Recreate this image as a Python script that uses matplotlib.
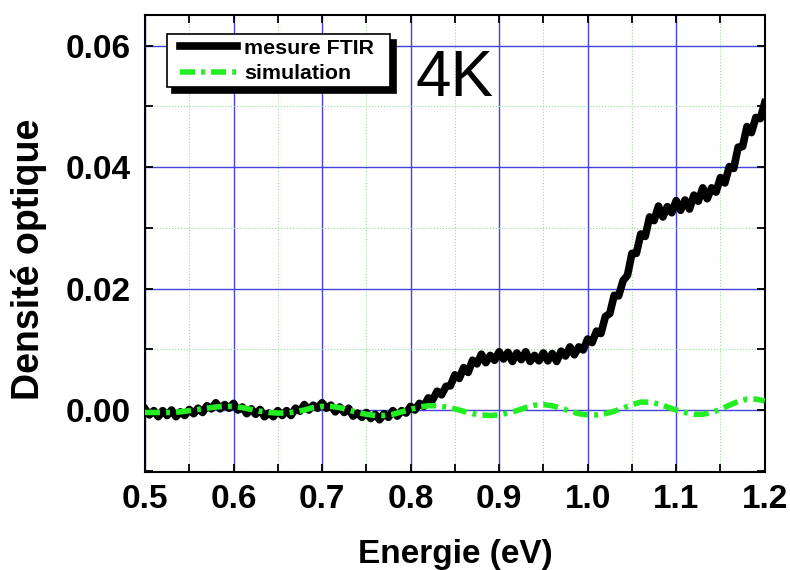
import numpy as np
import matplotlib
matplotlib.use("Agg")
from matplotlib import pyplot as plt
from matplotlib.ticker import MultipleLocator, FormatStrFormatter
from matplotlib.lines import Line2D
from matplotlib.legend_handler import HandlerLine2D

# energies (eV)
energie_ftir = np.round(np.arange(0.500, 1.2001, 0.005), 3)
energie_sim = np.round(np.arange(0.50, 1.2001, 0.01), 2)

do_ftir = [
    0.0002, -0.0008, -0.0001, -0.0011, -0.0001, -0.0009, 0.0000, -0.0011, -0.0003, -0.0009,
    0.0001, -0.0006, 0.0003, -0.0004, 0.0007, 0.0002, 0.0012, 0.0002, 0.0009, 0.0003,
    0.0011, 0.0000, 0.0005, -0.0006, 0.0002, -0.0007, 0.0001, -0.0011, -0.0005, -0.0011,
    -0.0001, -0.0009, -0.0001, -0.0009, 0.0003, -0.0002, 0.0009, 0.0000, 0.0008, 0.0003,
    0.0012, 0.0003, 0.0008, -0.0003, 0.0005, -0.0004, 0.0003, -0.0010, -0.0005, -0.0012,
    -0.0004, -0.0014, -0.0007, -0.0016, -0.0006, -0.0012, -0.0001, -0.0010, -0.0001, -0.0005,
    0.0006, 0.0000, 0.0011, 0.0006, 0.0020, 0.0017, 0.0031, 0.0025, 0.0039, 0.0040,
    0.0058, 0.0052, 0.0070, 0.0062, 0.0082, 0.0076, 0.0092, 0.0078, 0.0090, 0.0082,
    0.0096, 0.0084, 0.0095, 0.0080, 0.0094, 0.0083, 0.0096, 0.0080, 0.0090, 0.0081,
    0.0094, 0.0081, 0.0093, 0.0080, 0.0097, 0.0089, 0.0104, 0.0091, 0.0104, 0.0099,
    0.0117, 0.0111, 0.0130, 0.0126, 0.0154, 0.0159, 0.0189, 0.0188, 0.0213, 0.0222,
    0.0258, 0.0258, 0.0290, 0.0286, 0.0318, 0.0312, 0.0336, 0.0318, 0.0335, 0.0325,
    0.0345, 0.0329, 0.0346, 0.0331, 0.0354, 0.0344, 0.0366, 0.0348, 0.0366, 0.0359,
    0.0383, 0.0374, 0.0401, 0.0398, 0.0433, 0.0434, 0.0467, 0.0457, 0.0482, 0.0480,
    0.0506,
]

# simulated optical density
do_sim = [
    -0.0004, -0.0004, -0.0004, -0.0004, -0.0003, -0.0001, 0.0001, 0.0003, 0.0005, 0.0006,
    0.0006, 0.0004, 0.0001, -0.0002, -0.0004, -0.0005, -0.0005, -0.0003, 0.0000, 0.0004,
    0.0006, 0.0006, 0.0004, 0.0000, -0.0004, -0.0007, -0.0009, -0.0009, -0.0007, -0.0003,
    0.0001, 0.0005, 0.0007, 0.0007, 0.0005, 0.0002, -0.0002, -0.0006, -0.0008, -0.0009,
    -0.0008, -0.0005, -0.0001, 0.0004, 0.0008, 0.0009, 0.0007, 0.0003, -0.0002, -0.0006,
    -0.0008, -0.0008, -0.0006, -0.0002, 0.0003, 0.0009, 0.0013, 0.0013, 0.0010, 0.0005,
    0.0000, -0.0004, -0.0007, -0.0007, -0.0004, 0.0001, 0.0008, 0.0014, 0.0018, 0.0018,
    0.0015,
]

plt.rcParams['font.family'] = ['Liberation Sans', 'DejaVu Sans']

fig = plt.figure(figsize=(7.9, 5.7), dpi=100)
ax = fig.add_axes([0.1835, 0.172, 0.7845, 0.802])

# grid: blue major, dotted green minor
ax.xaxis.set_major_locator(MultipleLocator(0.1))
ax.xaxis.set_minor_locator(MultipleLocator(0.05))
ax.yaxis.set_major_locator(MultipleLocator(0.02))
ax.yaxis.set_minor_locator(MultipleLocator(0.01))
ax.grid(which='major', color='#4444dd', lw=1.0)
ax.grid(which='minor', color='#99dd99', lw=0.8, ls=':')
ax.set_axisbelow(True)

ax.plot(energie_ftir, do_ftir, color='black', lw=5.5, label='mesure FTIR  ', zorder=3)
ax.plot(energie_sim, do_sim, color='#22ee22', lw=4, dashes=(2.7, 1.1, 0.7, 1.1),
        label='simulation', zorder=4)

ax.set_xlim(0.5, 1.2)
ax.set_ylim(-0.0102, 0.0651)

ax.xaxis.set_major_formatter(FormatStrFormatter('%.1f'))
ax.yaxis.set_major_formatter(FormatStrFormatter('%.2f'))
ax.tick_params(which='both', direction='in', top=True, right=True, length=6, width=1.3)
ax.tick_params(which='major', labelsize=24)
ax.tick_params(axis='x', which='major', pad=9)
ax.tick_params(axis='y', which='major', pad=10)
for lab in ax.get_xticklabels() + ax.get_yticklabels():
    lab.set_fontweight('bold')
for sp in ax.spines.values():
    sp.set_linewidth(1.5)

ax.set_xlabel('Energie (eV)', fontsize=24, fontweight='bold', labelpad=17)
ax.set_ylabel('Densité optique', fontsize=27, fontweight='bold')
ax.yaxis.set_label_coords(-0.158, 0.466)

leg = ax.legend(loc='upper left', bbox_to_anchor=(0.035, 0.957), borderaxespad=0,
                fancybox=False, edgecolor='black', framealpha=1, handlelength=3.07,
                prop={'weight': 'bold', 'size': 15.4}, borderpad=0.2, labelspacing=0.3,
                handletextpad=0.34, handler_map={Line2D: HandlerLine2D(xpad=0.43)},
                shadow={'color': 'black', 'alpha': 1, 'ox': 4, 'oy': -4})
leg.get_frame().set_linewidth(1.2)

ax.text(0.805, 0.0545, '4K', fontsize=46, va='center', ha='left')

fig.savefig('out.png', dpi=100)
